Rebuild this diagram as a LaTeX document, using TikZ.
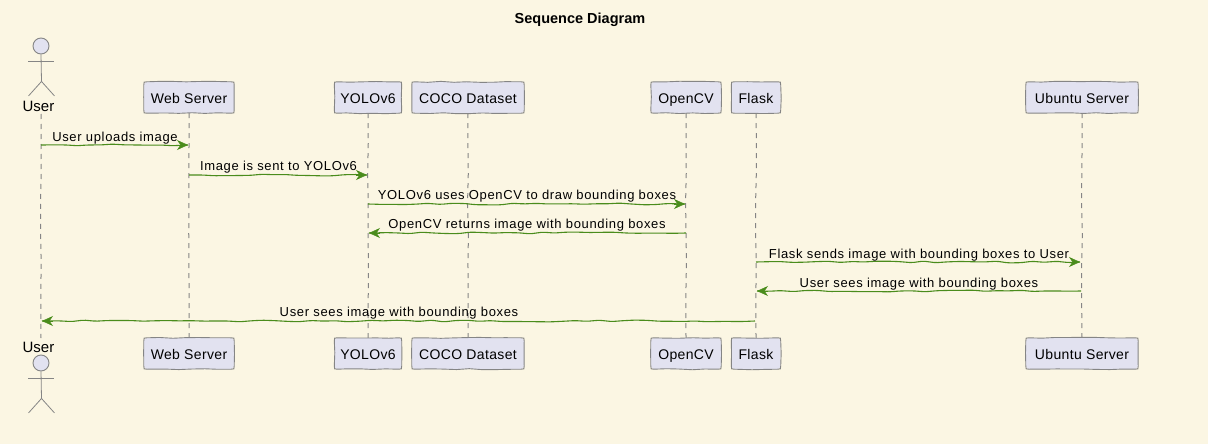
\documentclass[tikz,border=0pt]{standalone}
\usepackage{fontspec}
\setmainfont{Liberation Sans}
\newfontfamily\msgfont[LetterSpace=5]{Liberation Sans}
\newfontfamily\boxfont[LetterSpace=2.5]{Liberation Sans}
\usetikzlibrary{arrows.meta,decorations.pathmorphing,calc}
\definecolor{pagebg}{HTML}{FBF6E3}
\definecolor{boxfill}{HTML}{E2E2F0}
\definecolor{edgegray}{HTML}{858585}
\definecolor{msggreen}{HTML}{4A8C1C}
\tikzset{
  wob/.style={decorate,decoration={random steps,segment length=12pt,amplitude=0.9pt},rounded corners=2pt},
  part/.style={fill=boxfill,rounded corners=3pt,minimum height=31pt,inner sep=0pt,
    text height=14pt,text depth=3pt,font=\boxfont\fontsize{14}{16}\selectfont,text=black},
  partedge/.style={draw=edgegray,line width=0.9pt,decoration={random steps,segment length=13pt,amplitude=0.55pt}},
  actorname/.style={anchor=base,inner sep=0pt,font=\fontsize{15}{17}\selectfont,text=black},
  msglabel/.style={anchor=base,inner sep=0pt,font=\msgfont\fontsize{13}{15}\selectfont,text=black},
  lifeline/.style={draw=edgegray,line width=1pt,dash pattern=on 5pt off 5pt,
    decorate,decoration={random steps,segment length=30pt,amplitude=0.5pt}},
  msgline/.style={draw=msggreen,line width=1.1pt,wob},
  msgtip/.style={draw=msggreen,fill=msggreen,line width=0.6pt,-{Stealth[length=11pt,width=10pt,inset=3.5pt,fill=msggreen]}},
  stick/.style={draw=edgegray,line width=0.8pt},
  head/.style={draw=edgegray,fill=boxfill,line width=0.9pt,circle,minimum size=16pt,inner sep=0pt},
}
\newcommand{\stickbody}[2]{%
  \node[head] (#2head) at (41,#1) {};
  \draw[stick] (#2head.south) -- ++(0.5,27) coordinate (#2hip);
  \draw[stick] (28,#1+15.5) -- (54,#1+15.5);
  \draw[stick] (#2hip) -- ++(-13,14.5);
  \draw[stick] (#2hip) -- ++(13,14.5);
}
% hand-drawn outline round a node, each side wobbling on its own
\newcommand{\handedge}[1]{%
  \draw[partedge] ($(#1.north west)+(3,0)$)
    decorate{-- ($(#1.north east)+(-3,0)$)} .. controls (#1.north east) .. ($(#1.north east)+(0,3)$)
    decorate{-- ($(#1.south east)+(0,-3)$)} .. controls (#1.south east) .. ($(#1.south east)+(-3,0)$)
    decorate{-- ($(#1.south west)+(3,0)$)} .. controls (#1.south west) .. ($(#1.south west)+(0,-3)$)
    decorate{-- ($(#1.north west)+(0,3)$)} .. controls (#1.north west) .. ($(#1.north west)+(3,0)$);
}
\newcommand{\msg}[4]{%
  \coordinate (#1a) at (#2,#4);
  \coordinate (#1b) at (#3,#4);
  \draw[msgline] (#1a) -- (#1b);
  \draw[msgtip] ($(#1b)!11pt!(#1a)$) -- (#1b);
}
\begin{document}
\begin{tikzpicture}[x=1pt,y=-1pt]
\pgfmathsetseed{11}
\useasboundingbox (0,0) rectangle (1208,444);
\fill[pagebg] (0,0) rectangle (1208,444);
\node[anchor=base,inner sep=0pt,font=\bfseries\fontsize{14.5}{16}\selectfont] (title) at (580,24) {Sequence Diagram};

% actors
\stickbody{46}{ut}
\stickbody{363}{ub}
\node[actorname] (userT) at (38.5,111) {User};
\node[actorname] (userB) at (38.5,352) {User};
\coordinate (userTl) at (41,114);
\coordinate (userBl) at (41,338);

% participants, top row then bottom row
\foreach \n/\x/\w/\t in {web/189/90/Web Server,yolo/368/67/YOLOv6,coco/468/112/COCO Dataset,cv/686/70/OpenCV,flask/756/49/Flask,ubuntu/1082/112/Ubuntu Server}{
  \node[part,minimum width=\w pt] (\n T) at (\x,97.5) {\t};
  \node[part,minimum width=\w pt] (\n B) at (\x,353.5) {\t};
  \draw[lifeline] (\n T.south) -- (\n B.north);
  \handedge{\n T}
  \handedge{\n B}
}
\draw[lifeline] (userTl) -- (userBl);

% messages
\msg{a}{41}{188}{145}
\msg{b}{189}{367}{175}
\msg{c}{368}{685}{204}
\msg{d}{686}{369}{233}
\msg{e}{756}{1080}{262}
\msg{f}{1081}{757}{291}
\msg{g}{755}{42}{321}
\node[msglabel] (la) at (115,141) {User uploads image};
\node[msglabel] (lb) at (278.5,170) {Image is sent to YOLOv6};
\node[msglabel] (lc) at (527,199) {YOLOv6 uses OpenCV to draw bounding boxes};
\node[msglabel] (ld) at (527,228) {OpenCV returns image with bounding boxes};
\node[msglabel] (le) at (919,258) {Flask sends image with bounding boxes to User};
\node[msglabel] (lf) at (919,287) {User sees image with bounding boxes};
\node[msglabel] (lg) at (399,316) {User sees image with bounding boxes};
\end{tikzpicture}
\end{document}
